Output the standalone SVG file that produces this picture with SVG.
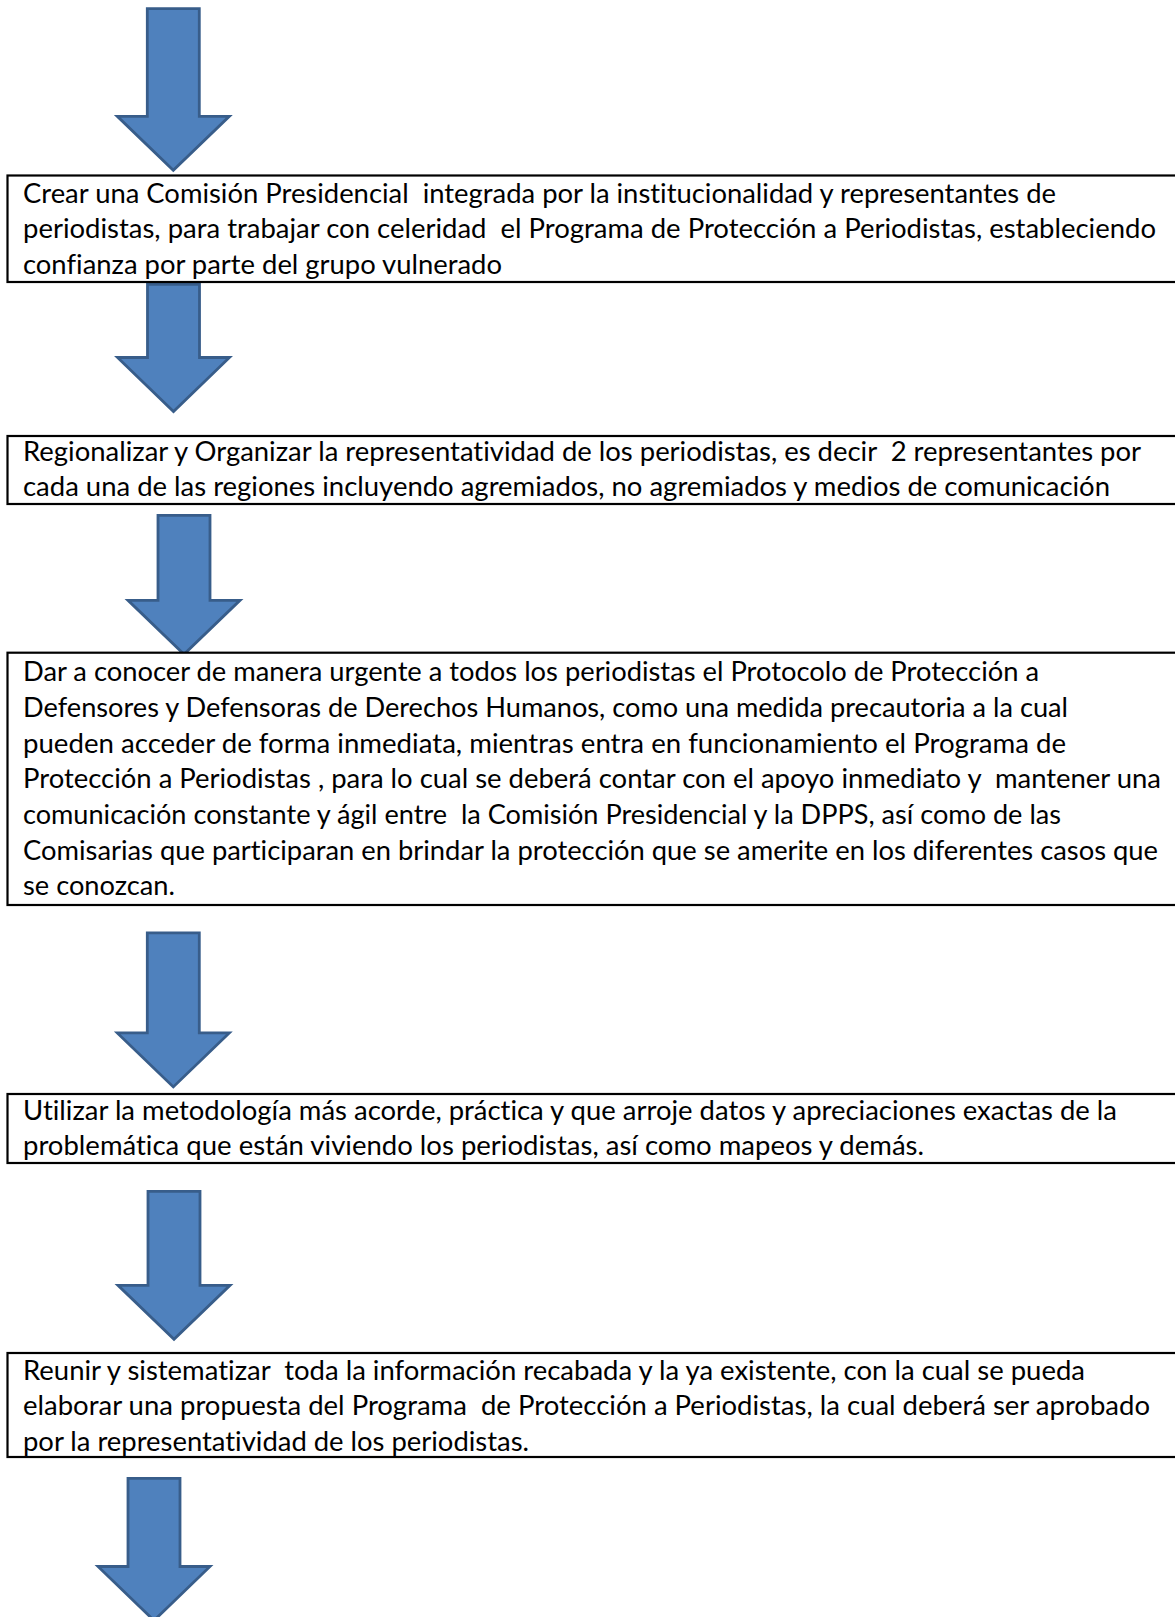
<svg xmlns="http://www.w3.org/2000/svg" width="1175" height="1617" viewBox="0 0 1175 1617">
<style>
.bg{fill:#ffffff}
.box{fill:#ffffff;stroke:#000000;stroke-width:2.2}
.arr{fill:#4F81BD;stroke:#385D8A;stroke-width:2.8;stroke-linejoin:miter}
.t{font-family:Lato,"Liberation Sans",sans-serif;font-size:27px;fill:#000000;white-space:pre;font-variant-ligatures:none;font-feature-settings:"liga" 0,"clig" 0}
</style>
<rect class="bg" x="0" y="0" width="1175" height="1617"/>
<g id="connectors">
<path id="arrow1" class="arr" d="M147.3,8.6 H199.3 V116.3 H229.3 L173.3,170.3 L117.3,116.3 H147.3 Z"/>
<path id="arrow2" class="arr" d="M147.5,284.3 H199.5 V357.5 H229.5 L173.5,411.5 L117.5,357.5 H147.5 Z"/>
<path id="arrow3" class="arr" d="M158,515.3 H210 V600.3 H240 L184,654.3 L128,600.3 H158 Z"/>
<path id="arrow4" class="arr" d="M147.3,932.8 H199.3 V1032.9 H229.3 L173.3,1086.9 L117.3,1032.9 H147.3 Z"/>
<path id="arrow5" class="arr" d="M148,1191.3 H200 V1285.3 H230 L174,1339.3 L118,1285.3 H148 Z"/>
<path id="arrow6" class="arr" d="M128,1478.3 H180 V1566.5 H210 L154,1620.5 L98,1566.5 H128 Z"/>
</g>
<g id="box1">
<rect class="box" x="7.5" y="175.5" width="1180" height="106.5"/>
<text class="t" x="23" y="202.5" textLength="1033" lengthAdjust="spacingAndGlyphs">Crear una Comisión Presidencial  integrada por la institucionalidad y representantes de</text>
<text class="t" x="23" y="238.2" textLength="1133" lengthAdjust="spacingAndGlyphs">periodistas, para trabajar con celeridad  el Programa de Protección a Periodistas, estableciendo</text>
<text class="t" x="23" y="273.9" textLength="479" lengthAdjust="spacingAndGlyphs">confianza por parte del grupo vulnerado</text>
</g>
<g id="box2">
<rect class="box" x="7.5" y="436" width="1180" height="68"/>
<text class="t" x="23" y="460.5" textLength="1118" lengthAdjust="spacingAndGlyphs">Regionalizar y Organizar la representatividad de los periodistas, es decir  2 representantes por</text>
<text class="t" x="23" y="496" textLength="1087" lengthAdjust="spacingAndGlyphs">cada una de las regiones incluyendo agremiados, no agremiados y medios de comunicación</text>
</g>
<g id="box3">
<rect class="box" x="7.5" y="652.7" width="1180" height="252.3"/>
<text class="t" x="23" y="681.2" textLength="1016" lengthAdjust="spacingAndGlyphs">Dar a conocer de manera urgente a todos los periodistas el Protocolo de Protección a</text>
<text class="t" x="23" y="716.9" textLength="1045" lengthAdjust="spacingAndGlyphs">Defensores y Defensoras de Derechos Humanos, como una medida precautoria a la cual</text>
<text class="t" x="23" y="752.6" textLength="1043" lengthAdjust="spacingAndGlyphs">pueden acceder de forma inmediata, mientras entra en funcionamiento el Programa de</text>
<text class="t" x="23" y="788.3" textLength="1138" lengthAdjust="spacingAndGlyphs">Protección a Periodistas , para lo cual se deberá contar con el apoyo inmediato y  mantener una</text>
<text class="t" x="23" y="824" textLength="1038" lengthAdjust="spacingAndGlyphs">comunicación constante y ágil entre  la Comisión Presidencial y la DPPS, así como de las</text>
<text class="t" x="23" y="859.7" textLength="1135" lengthAdjust="spacingAndGlyphs">Comisarias que participaran en brindar la protección que se amerite en los diferentes casos que</text>
<text class="t" x="23" y="895.4" textLength="152" lengthAdjust="spacingAndGlyphs">se conozcan.</text>
</g>
<g id="box4">
<rect class="box" x="7.5" y="1094" width="1180" height="69"/>
<text class="t" x="23" y="1119.5" textLength="1094" lengthAdjust="spacingAndGlyphs">Utilizar la metodología más acorde, práctica y que arroje datos y apreciaciones exactas de la</text>
<text class="t" x="23" y="1155" textLength="901" lengthAdjust="spacingAndGlyphs">problemática que están viviendo los periodistas, así como mapeos y demás.</text>
</g>
<g id="box5">
<rect class="box" x="7.5" y="1353" width="1180" height="104"/>
<text class="t" x="23" y="1379.5" textLength="1062" lengthAdjust="spacingAndGlyphs">Reunir y sistematizar  toda la información recabada y la ya existente, con la cual se pueda</text>
<text class="t" x="23" y="1415" textLength="1127" lengthAdjust="spacingAndGlyphs">elaborar una propuesta del Programa  de Protección a Periodistas, la cual deberá ser aprobado</text>
<text class="t" x="23" y="1450.7" textLength="506" lengthAdjust="spacingAndGlyphs">por la representatividad de los periodistas.</text>
</g>
</svg>
